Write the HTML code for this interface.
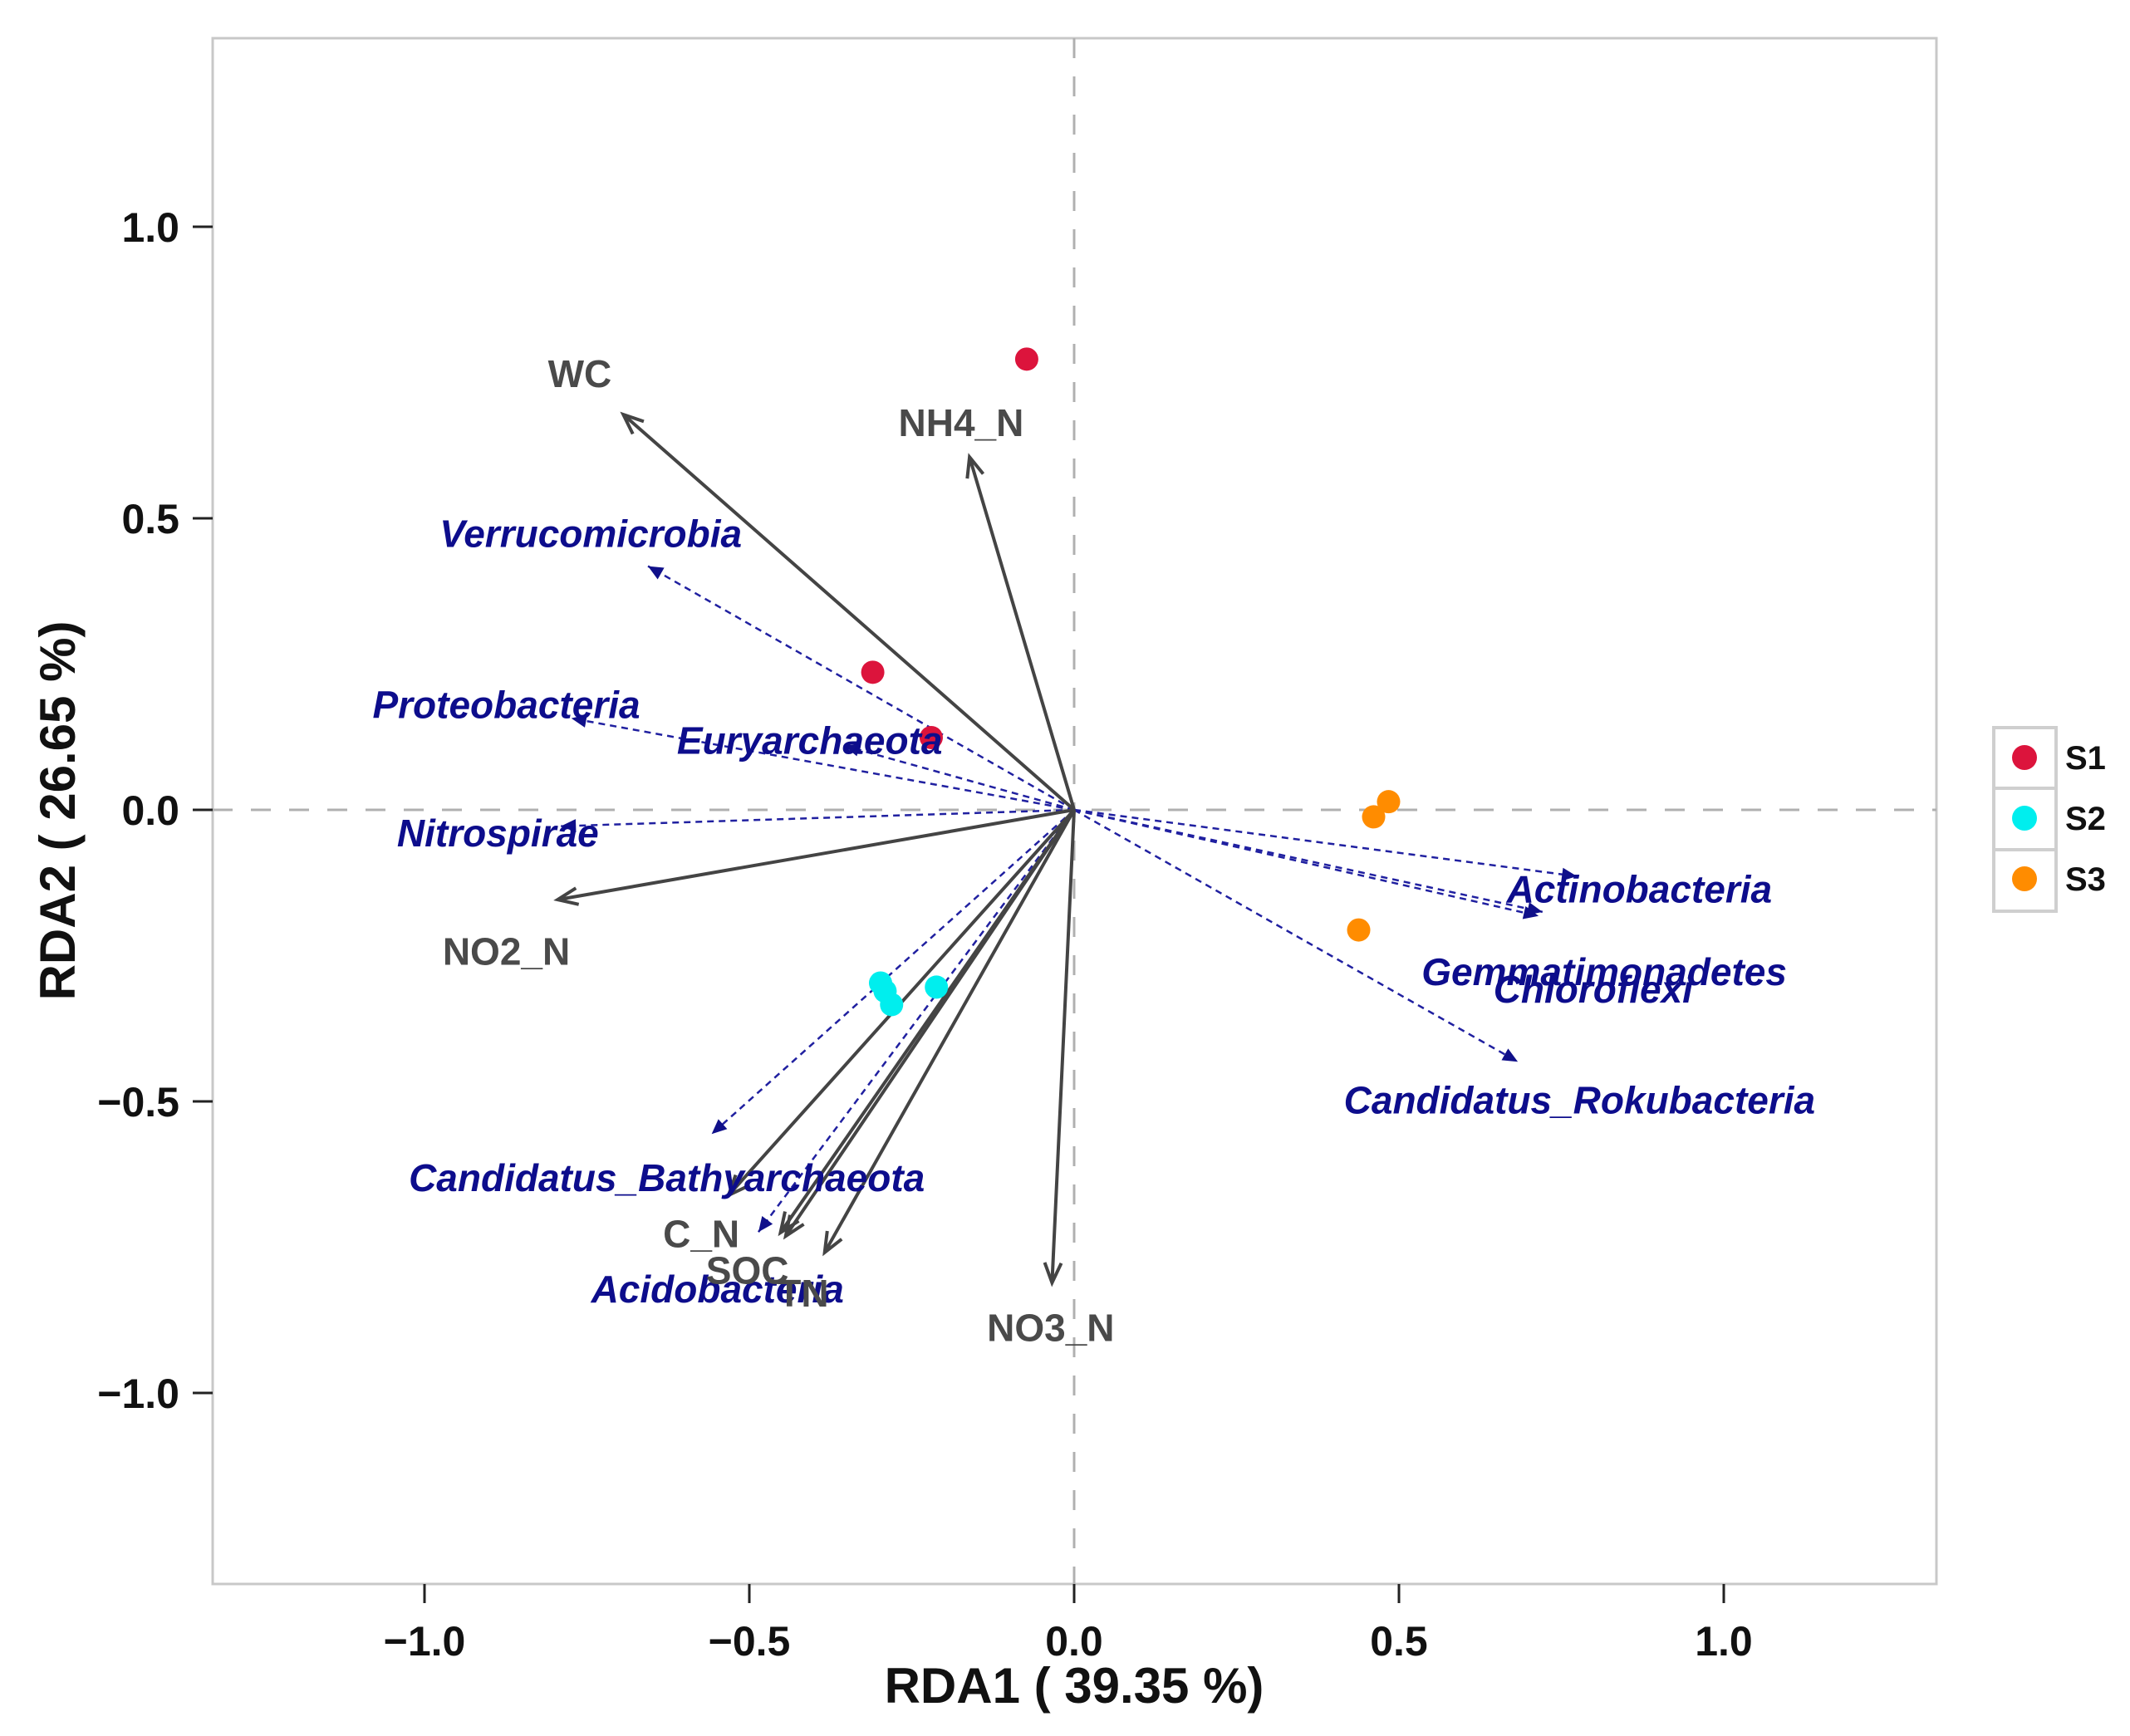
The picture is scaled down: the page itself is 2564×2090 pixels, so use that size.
<!DOCTYPE html>
<html><head><meta charset="utf-8"><style>
html,body{margin:0;padding:0;background:#fff;}
svg{display:block;}
text{font-family:"Liberation Sans",sans-serif;}
</style></head><body>
<svg id="chart" width="2564" height="2090" viewBox="0 0 2564 2090">
<rect x="256" y="46" width="2075" height="1861" fill="#fff" stroke="#c8c8c8" stroke-width="3"/>
<g id="axes"></g>
<g id="refLines"></g>
<g id="speciesArrows"></g>
<g id="envArrows"></g>
<g id="points"></g>
<g id="labels"></g>
<text x="1293" y="2050" text-anchor="middle" font-size="60" font-weight="bold" fill="#111">RDA1 ( 39.35 %)</text>
<text transform="translate(90,976) rotate(-90)" text-anchor="middle" font-size="60" font-weight="bold" fill="#111">RDA2 ( 26.65 %)</text>
<g>
<rect x="2400" y="876" width="75" height="221" fill="#fff" stroke="#cfcfcf" stroke-width="4"/>
<line x1="2400" y1="949" x2="2475" y2="949" stroke="#cfcfcf" stroke-width="4"/>
<line x1="2400" y1="1023" x2="2475" y2="1023" stroke="#cfcfcf" stroke-width="4"/>
<circle cx="2437" cy="912" r="15" fill="#dc143c"/>
<circle cx="2437" cy="985" r="15" fill="#00eeee"/>
<circle cx="2437" cy="1058" r="15" fill="#ff8c00"/>
<text x="2486" y="926" font-size="40" font-weight="bold" fill="#111">S1</text>
<text x="2486" y="999" font-size="40" font-weight="bold" fill="#111">S2</text>
<text x="2486" y="1072" font-size="40" font-weight="bold" fill="#111">S3</text>
</g>
</svg>
<script>
const tickValues = [-1.0, -0.5, 0.0, 0.5, 1.0];
const tickLabelsX = ["\u22121.0", "\u22120.5", "0.0", "0.5", "1.0"];
const tickLabelsY = ["\u22121.0", "\u22120.5", "0.0", "0.5", "1.0"];

const envNames = ["WC", "NH4_N", "NO2_N", "C_N", "SOC", "TN", "NO3_N", "SOC2"];
const envX = [-0.694, -0.161, -0.795, -0.532, -0.444, -0.384, -0.034, -0.452];
const envY = [0.678, 0.605, -0.154, -0.661, -0.731, -0.759, -0.811, -0.725];
const envLabelX = [-0.761, -0.174, -0.874, -0.574, -0.503, -0.417, -0.036, null];
const envLabelY = [0.748, 0.664, -0.243, -0.727, -0.790, -0.829, -0.888, null];

const spNames = ["Verrucomicrobia", "Proteobacteria", "Euryarchaeota", "Nitrospirae", "Candidatus_Bathyarchaeota", "Acidobacteria", "Actinobacteria", "Gemmatimonadetes", "Chloroflexi", "Candidatus_Rokubacteria"];
const spX = [-0.656, -0.774, -0.354, -0.790, -0.558, -0.486, 0.774, 0.721, 0.715, 0.683];
const spY = [0.418, 0.157, 0.110, -0.028, -0.556, -0.724, -0.114, -0.175, -0.182, -0.432];
const spLabelX = [-0.744, -0.874, -0.407, -0.887, -0.627, -0.549, 0.870, 0.816, 0.799, 0.778];
const spLabelY = [0.474, 0.180, 0.119, -0.040, -0.631, -0.822, -0.136, -0.278, -0.308, -0.498];

const sampleGroup = ["S1", "S1", "S1", "S2", "S2", "S2", "S2", "S3", "S3", "S3"];
const sampleX = [-0.073, -0.310, -0.220, -0.298, -0.281, -0.212, -0.291, 0.484, 0.461, 0.438];
const sampleY = [0.773, 0.236, 0.124, -0.297, -0.334, -0.304, -0.311, 0.014, -0.012, -0.206];

const groupColor = {S1: "#dc143c", S2: "#00eeee", S3: "#ff8c00"};
const NS = "http://www.w3.org/2000/svg";
function sx(v){ return 1293 + v * 782; }
function sy(v){ return 975 - v * 702; }
function mk(tag, attrs, parent){
  const e = document.createElementNS(NS, tag);
  for (const k in attrs) e.setAttribute(k, attrs[k]);
  parent.appendChild(e);
  return e;
}
const axes = document.getElementById('axes');
tickValues.forEach((v, i) => {
  const t1 = mk('line', {x1: sx(v), x2: sx(v), y1: 1907, y2: 1930, stroke: '#222', 'stroke-width': 3}, axes);
  
  
  const l1 = mk('text', {x: sx(v), y: 1993, 'text-anchor': 'middle', 'font-size': 50, 'font-weight': 'bold', fill: '#111'}, axes);
  l1.textContent = tickLabelsX[i];
  
  
  const t2 = mk('line', {x1: 232, x2: 256, y1: sy(v), y2: sy(v), stroke: '#222', 'stroke-width': 3}, axes);
  
  
  const l2 = mk('text', {x: 216, y: sy(v) + 18, 'text-anchor': 'end', 'font-size': 50, 'font-weight': 'bold', fill: '#111'}, axes);
  l2.textContent = tickLabelsY[i];
  
  
});
const ref = document.getElementById('refLines');
const h = mk('line', {x1: 256, x2: 2331, y1: sy(0), y2: sy(0), stroke: '#b0b0b0', 'stroke-width': 3, 'stroke-dasharray': '24 22'}, ref);


const vl = mk('line', {x1: sx(0), x2: sx(0), y1: 46, y2: 1907, stroke: '#b0b0b0', 'stroke-width': 3, 'stroke-dasharray': '24 22'}, ref);



function head(x0, y0, x1, y1, len, wid, filled, color, parent){
  const a = Math.atan2(y1 - y0, x1 - x0);
  const bx = x1 - len * Math.cos(a), by = y1 - len * Math.sin(a);
  const px = -Math.sin(a) * wid, py = Math.cos(a) * wid;
  if (filled) {
    return mk('polygon', {points: `${x1},${y1} ${bx+px},${by+py} ${bx-px},${by-py}`, fill: color}, parent);
  }
  return mk('polyline', {points: `${bx+px},${by+py} ${x1},${y1} ${bx-px},${by-py}`, fill: 'none', stroke: color, 'stroke-width': 4}, parent);
}
const spG = document.getElementById('speciesArrows');
const labG = document.getElementById('labels');
spNames.forEach((n, i) => {
  const x1 = sx(spX[i]), y1 = sy(spY[i]);
  const ln = mk('line', {x1: sx(0), y1: sy(0), x2: x1, y2: y1, stroke: '#2020a0', 'stroke-width': 2.5, 'stroke-dasharray': '8 6'}, spG);
  
  
  head(sx(0), sy(0), x1, y1, 18, 8, true, '#10108a', spG);
  const t = mk('text', {x: sx(spLabelX[i]), y: sy(spLabelY[i]) + 16, 'text-anchor': 'middle', 'font-size': 46, 'font-weight': 'bold', 'font-style': 'italic', fill: '#0d0d8c'}, labG);
  t.textContent = n;
  
  
});
const envG = document.getElementById('envArrows');
envNames.forEach((n, i) => {
  const x1 = sx(envX[i]), y1 = sy(envY[i]);
  const ln = mk('line', {x1: sx(0), y1: sy(0), x2: x1, y2: y1, stroke: '#444', 'stroke-width': 4}, envG);
  
  
  head(sx(0), sy(0), x1, y1, 24, 10, false, '#444', envG);
  if (envLabelX[i] !== null) {
    const t = mk('text', {x: sx(envLabelX[i]), y: sy(envLabelY[i]) + 16, 'text-anchor': 'middle', 'font-size': 46, 'font-weight': 'bold', fill: '#4a4a4a'}, labG);
    t.textContent = n;
    
    
  }
});
const ptG = document.getElementById('points');
sampleX.forEach((v, i) => {
  const c = mk('circle', {cx: sx(v), cy: sy(sampleY[i]), r: 14, fill: groupColor[sampleGroup[i]]}, ptG);
  
  
});
</script>
</body></html>
